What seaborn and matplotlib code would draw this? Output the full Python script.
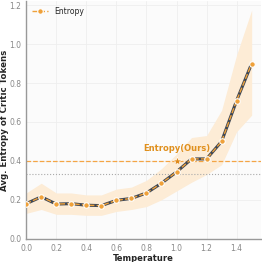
import numpy as np
import pandas as pd
import seaborn as sns
import matplotlib.pyplot as plt

temps = [0.0, 0.1, 0.2, 0.3, 0.4, 0.5, 0.6, 0.7, 0.8, 0.9, 1.0, 1.1, 1.2, 1.3, 1.4, 1.5]
entropy = [0.18, 0.215, 0.178, 0.18, 0.172, 0.17, 0.197, 0.207, 0.235, 0.285,
           0.343, 0.41, 0.41, 0.50, 0.71, 0.90]
lower = [0.13, 0.15, 0.125, 0.125, 0.12, 0.12, 0.14, 0.15, 0.165, 0.2,
         0.245, 0.29, 0.33, 0.38, 0.55, 0.635]
upper = [0.235, 0.285, 0.235, 0.235, 0.225, 0.225, 0.255, 0.265, 0.30, 0.36,
         0.435, 0.52, 0.53, 0.66, 0.945, 1.175]
ours_temp = 1.0
ours_value = 0.40
baseline = 0.33

orange = '#efa13a'
dark = '#3e4755'

sns.set_style('whitegrid')
plt.rcParams['font.family'] = ['DejaVu Sans']
fig, ax = plt.subplots(figsize=(2.62, 2.62), dpi=100)
ax.set_facecolor('#fbfbfb')

df = pd.DataFrame({'Temperature': temps, 'Entropy': entropy})

ax.fill_between(temps, lower, upper, color='#fdecd6', linewidth=0, zorder=1)
sns.lineplot(data=df, x='Temperature', y='Entropy', ax=ax, color=dark,
             linewidth=2.2, zorder=2, legend=False)
sns.lineplot(data=df, x='Temperature', y='Entropy', ax=ax, color=orange,
             linewidth=1.0, linestyle='--', marker='o', markersize=4,
             markeredgecolor='white', markeredgewidth=0.8, zorder=3,
             label='Entropy')

ax.axhline(ours_value, color='#f4a545', linestyle='--', linewidth=0.9, zorder=1.5)
ax.axhline(baseline, color='#aaaaaa', linestyle=':', linewidth=0.8, zorder=1.5)
ax.scatter([ours_temp], [ours_value], marker='*', s=45, color='#e08a1a',
           edgecolor='white', linewidth=0.4, zorder=4)
ax.text(ours_temp, ours_value + 0.04, 'Entropy(Ours)', color='#e0901e',
        fontsize=6, fontweight='bold', ha='center', va='bottom')

ax.set_xlim(0, 1.56)
ax.set_ylim(0, 1.22)
ax.set_xticks([0.0, 0.2, 0.4, 0.6, 0.8, 1.0, 1.2, 1.4])
ax.set_yticks([0.0, 0.2, 0.4, 0.6, 0.8, 1.0, 1.2])
ax.tick_params(labelsize=5.5, colors='#888888', length=2, pad=1.5)
ax.grid(color='#eeeeee', linewidth=0.6)
for s in ['top', 'right']:
    ax.spines[s].set_visible(False)
for s in ['left', 'bottom']:
    ax.spines[s].set_color('#999999')
    ax.spines[s].set_linewidth(1.0)

ax.set_xlabel('Temperature', fontsize=6, fontweight='bold', labelpad=1)
ax.set_ylabel('Avg. Entropy of Critic Tokens', fontsize=6.2, fontweight='bold', labelpad=0.5)

leg = ax.legend(loc='upper left', fontsize=5.5, frameon=False, handlelength=2.2,
                borderaxespad=0.3)

fig.subplots_adjust(left=0.1, right=0.995, top=0.995, bottom=0.089)
fig.savefig('out.png', dpi=100)
